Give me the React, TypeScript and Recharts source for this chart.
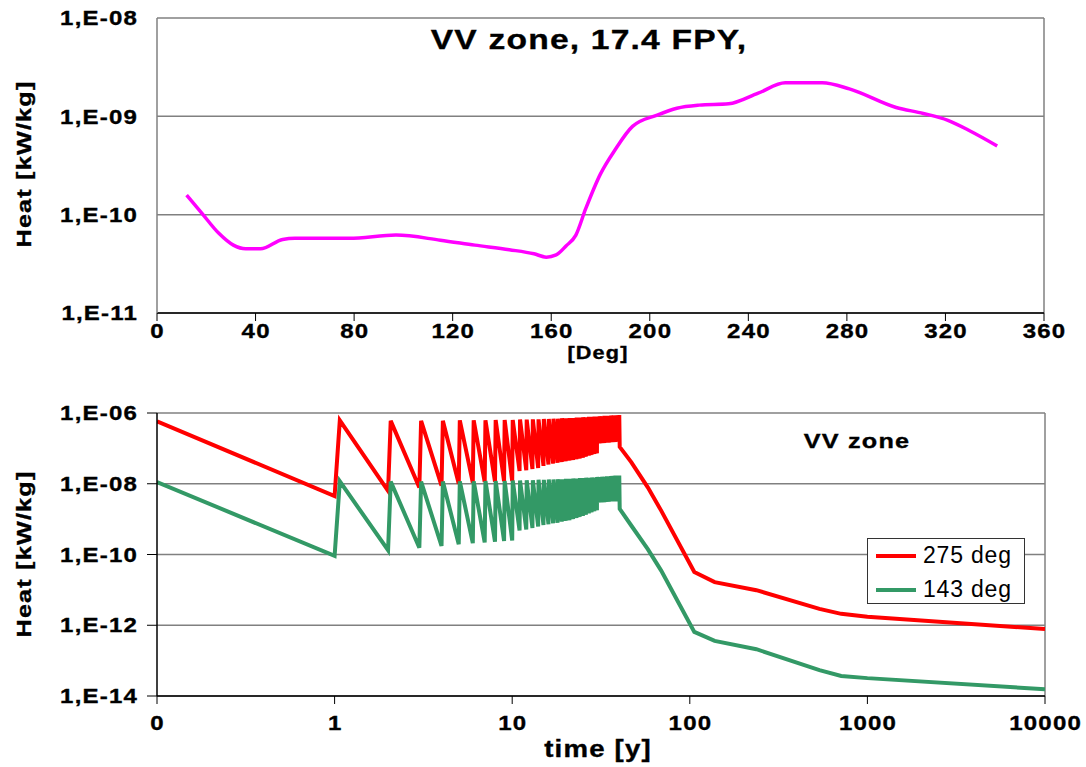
import React from 'react';
import { LineChart, Line, XAxis, YAxis, CartesianGrid, ReferenceLine, Legend } from 'recharts';

const FONT = '"Liberation Sans", Arial, Helvetica, sans-serif';

// ---- top panel: heat vs poloidal angle, 17.4 FPY
const angleDeg = [12, 14, 18, 25, 31, 36, 42, 51, 56, 78, 97, 115, 129, 143, 153, 158, 162, 166, 170, 174, 180, 186, 193, 203, 211, 220, 232, 244, 255, 270, 281, 300, 311, 321, 330, 341];
const heatByAngle = [
    1.58e-10, 1.38e-10, 1.05e-10, 6.5e-11, 4.9e-11, 4.5e-11, 4.5e-11, 5.6e-11, 5.75e-11, 5.75e-11,
    6.2e-11, 5.5e-11, 4.9e-11, 4.4e-11, 4.0e-11, 3.7e-11, 3.9e-11, 4.8e-11, 6.2e-11, 1.15e-10,
    2.6e-10, 4.6e-10, 7.9e-10, 1.03e-9, 1.21e-9, 1.3e-9, 1.34e-9, 1.72e-9, 2.19e-9, 2.19e-9,
    1.9e-9, 1.23e-9, 1.07e-9, 9.1e-10, 7.1e-10, 5.0e-10,
];
const topXTicks = [0, 40, 80, 120, 160, 200, 240, 280, 320, 360];
const topYTicks = [1e-11, 1e-10, 1e-9, 1e-8];
const topYLabels = ['1,E-11', '1,E-10', '1,E-09', '1,E-08'];

// ---- bottom panel: heat vs time
const startTime = 0.1;
const redStart = 5.8e-7;
const greenStart = 1.12e-8;
// ramp from shutdown value to operating peak at the start of each year
const RAMP = 0.07;
const cycleYears = [1, 2, 3, 4, 5, 6, 7, 8, 9, 10, 11, 12, 13, 14, 15, 16, 17, 18, 19, 20, 21, 22, 23, 24, 25, 26, 27, 28, 29, 30, 31, 32, 33, 34, 35, 36, 37, 38, 39, 40];
const redValley = [
    4.5e-9, 6.3e-9, 7.8e-9, 8.9e-9, 1.0e-8, 1.07e-8, 1.12e-8, 1.15e-8, 1.17e-8, 1.2e-8,
    2.3e-8, 2.4e-8, 2.6e-8, 2.8e-8, 3.2e-8, 3.5e-8, 3.7e-8, 3.9e-8, 4.1e-8, 4.3e-8,
    4.5e-8, 4.7e-8, 4.9e-8, 5.1e-8, 5.4e-8, 5.8e-8, 6.2e-8, 6.5e-8, 6.9e-8, 7.2e-8,
    1.38e-7, 1.41e-7, 1.41e-7, 1.45e-7, 1.45e-7, 1.48e-7, 1.51e-7, 1.51e-7, 1.55e-7, 1.58e-7,
];
const redPeak = [
    6.2e-7, 6.0e-7, 6.0e-7, 6.0e-7, 6.2e-7, 6.2e-7, 6.2e-7, 6.3e-7, 6.3e-7, 6.3e-7,
    6.5e-7, 6.5e-7, 6.6e-7, 6.6e-7, 6.8e-7, 6.8e-7, 6.9e-7, 6.9e-7, 7.1e-7, 7.1e-7,
    7.2e-7, 7.2e-7, 7.4e-7, 7.4e-7, 7.6e-7, 7.6e-7, 7.8e-7, 7.8e-7, 7.9e-7, 7.9e-7,
    8.1e-7, 8.1e-7, 8.3e-7, 8.3e-7, 8.3e-7, 8.5e-7, 8.5e-7, 8.5e-7, 8.7e-7, 8.7e-7,
];
const greenValley = [
    9.1e-11, 1.32e-10, 1.55e-10, 1.74e-10, 1.95e-10, 2.1e-10, 2.2e-10, 2.3e-10, 2.4e-10, 2.5e-10,
    4.8e-10, 5.1e-10, 5.6e-10, 6.2e-10, 6.8e-10, 7.2e-10, 7.6e-10, 7.9e-10, 8.5e-10, 8.9e-10,
    9.3e-10, 1.0e-9, 1.07e-9, 1.15e-9, 1.23e-9, 1.32e-9, 1.45e-9, 1.55e-9, 1.66e-9, 1.78e-9,
    2.95e-9, 3.0e-9, 3.0e-9, 3.1e-9, 3.1e-9, 3.16e-9, 3.16e-9, 3.2e-9, 3.2e-9, 3.3e-9,
];
const greenPeak = [
    1.17e-8, 1.15e-8, 1.15e-8, 1.15e-8, 1.17e-8, 1.17e-8, 1.2e-8, 1.2e-8, 1.2e-8, 1.23e-8,
    1.23e-8, 1.26e-8, 1.26e-8, 1.29e-8, 1.29e-8, 1.32e-8, 1.32e-8, 1.35e-8, 1.35e-8, 1.38e-8,
    1.38e-8, 1.41e-8, 1.41e-8, 1.45e-8, 1.45e-8, 1.48e-8, 1.48e-8, 1.51e-8, 1.51e-8, 1.55e-8,
    1.55e-8, 1.58e-8, 1.58e-8, 1.62e-8, 1.62e-8, 1.66e-8, 1.66e-8, 1.7e-8, 1.7e-8, 1.7e-8,
];
// cooling after the last operating year
const tailTimes = [40.3, 46.8, 58, 69, 106, 138, 237, 537, 712, 1000, 10000];
const redTail = [1.1e-7, 4.1e-8, 7.9e-9, 1.74e-9, 3.2e-11, 1.66e-11, 9.8e-12, 2.9e-12, 2.1e-12, 1.74e-12, 7.8e-13];
const greenTail = [1.95e-9, 6.6e-10, 1.41e-10, 3.5e-11, 6.5e-13, 3.6e-13, 2.1e-13, 5.4e-14, 3.7e-14, 3.2e-14, 1.55e-14];

const bottomXTicks = [0.1, 1, 10, 100, 1000, 10000];
const bottomXLabels = ['0', '1', '10', '100', '1000', '10000'];
const bottomYTicks = [1e-14, 1e-12, 1e-10, 1e-8, 1e-6];
const bottomYLabels = ['1,E-14', '1,E-12', '1,E-10', '1,E-08', '1,E-06'];
const legendOrder = ['275 deg', '143 deg'];

const topData = angleDeg.map((deg, i) => ({ deg, heat: heatByAngle[i] }));

const bottomData = [
    { t: startTime, red: redStart, green: greenStart },
    ...cycleYears.flatMap((yr, i) => [
        { t: yr, red: redValley[i], green: greenValley[i] },
        { t: yr + RAMP, red: redPeak[i], green: greenPeak[i] },
    ]),
    ...tailTimes.map((t, i) => ({ t, red: redTail[i], green: greenTail[i] })),
];

const findLabel = (values: number[], labels: string[], v: number) => {
    const i = values.findIndex((x) => Math.abs(x - v) <= Math.abs(x) * 1e-6);
    return i >= 0 ? labels[i] : '';
};

// bold, slightly widened text like the original office chart
function WideText({ x, y, size, anchor = 'middle', rotate = 0, ls = 1, dy, children }: any) {
    return (
        <text
            transform={`translate(${x},${y}) rotate(${rotate}) scale(1.2,1)`}
            textAnchor={anchor}
            dy={dy}
            fontFamily={FONT}
            fontWeight="bold"
            fontSize={size}
            letterSpacing={ls}
            fill="#000"
            stroke="#000"
            strokeWidth={0.35}
        >
            {children}
        </text>
    );
}

function YTick(props: any) {
    const { x, y, payload, values, labels } = props;
    return (
        <WideText x={x + 1} y={y} size={20} anchor="end" dy="0.36em">
            {findLabel(values, labels, payload.value)}
        </WideText>
    );
}

function XTick(props: any) {
    const { x, y, payload, values, labels, dy } = props;
    const text = labels ? findLabel(values, labels, payload.value) : String(payload.value);
    return (
        <WideText x={x + 0.6} y={y + dy} size={20}>
            {text}
        </WideText>
    );
}

function LegendBox({ payload }: any) {
    const items = legendOrder
        .map((name) => (payload || []).find((p: any) => p.value === name))
        .filter(Boolean);
    return (
        <div style={{ position: 'relative', width: 158, height: 66, boxSizing: 'border-box', border: '1px solid #333', background: '#fff', fontFamily: FONT }}>
            {items.map((item: any, i: number) => (
                <div key={item.value} style={{ position: 'absolute', left: 0, top: i * 34, height: 34, width: 156 }}>
                    <div style={{ position: 'absolute', left: 8, top: 15, width: 40, height: 4, background: item.color }} />
                    <div style={{ position: 'absolute', left: 55, top: 3, fontSize: 23, letterSpacing: 0.8, color: '#000', whiteSpace: 'nowrap' }}>
                        {item.value}
                    </div>
                </div>
            ))}
        </div>
    );
}

export default function App() {
    return (
        <div style={{ position: 'absolute', left: 0, top: 0, width: 1086, height: 767, background: '#fff', overflow: 'hidden' }}>
            <div style={{ position: 'absolute', left: 0, top: 0 }}>
                <LineChart width={1086} height={380} data={topData} margin={{ top: 18, right: 42, bottom: 27, left: 0 }}>
                    <CartesianGrid vertical={false} stroke="#808080" strokeWidth={1.5} />
                    <XAxis dataKey="deg" type="number" domain={[0, 360]} ticks={topXTicks} interval={0}
                        height={40} tickSize={8} axisLine={{ stroke: '#000', strokeWidth: 1.5 }}
                        tickLine={{ stroke: '#000' }} tick={<XTick dy={15} />} />
                    <YAxis type="number" scale="log" domain={[1e-11, 1e-8]} ticks={topYTicks} interval={0}
                        allowDataOverflow width={157} tickSize={0} tickMargin={20} tickLine={false}
                        axisLine={{ stroke: '#808080', strokeWidth: 1.5 }}
                        tick={<YTick values={topYTicks} labels={topYLabels} />} />
                    <ReferenceLine x={360} stroke="#808080" strokeWidth={1.5} />
                    <Line dataKey="heat" type="monotone" stroke="#FF00FF" strokeWidth={3.5} dot={false} isAnimationActive={false} />
                </LineChart>
            </div>
            <div style={{ position: 'absolute', left: 0, top: 380 }}>
                <LineChart width={1086} height={387} data={bottomData} margin={{ top: 33, right: 41, bottom: 31, left: 0 }}>
                    <CartesianGrid vertical={false} stroke="#808080" strokeWidth={1.5} />
                    <XAxis dataKey="t" type="number" scale="log" domain={[0.1, 10000]} ticks={bottomXTicks} interval={0}
                        allowDataOverflow height={40} tickSize={8} axisLine={{ stroke: '#000', strokeWidth: 1.5 }}
                        tickLine={{ stroke: '#000' }} tick={<XTick dy={24} values={bottomXTicks} labels={bottomXLabels} />} />
                    <YAxis type="number" scale="log" domain={[1e-14, 1e-6]} ticks={bottomYTicks} interval={0}
                        allowDataOverflow width={157} tickSize={10} tickMargin={10}
                        axisLine={{ stroke: '#000', strokeWidth: 1.5 }} tickLine={{ stroke: '#000' }}
                        tick={<YTick values={bottomYTicks} labels={bottomYLabels} />} />
                    <ReferenceLine x={10000} stroke="#808080" strokeWidth={1.5} />
                    <Legend layout="horizontal" align="center" verticalAlign="middle" content={<LegendBox />}
                        wrapperStyle={{ left: 867, top: 158, width: 158, height: 66 }} />
                    <Line dataKey="red" name="275 deg" type="linear" stroke="#FF0000" strokeWidth={4} dot={false} isAnimationActive={false} />
                    <Line dataKey="green" name="143 deg" type="linear" stroke="#339966" strokeWidth={4} dot={false} isAnimationActive={false} />
                </LineChart>
            </div>
            <svg width={1086} height={767} style={{ position: 'absolute', left: 0, top: 0, pointerEvents: 'none' }}>
                <WideText x={589} y={49} size={28}>VV zone, 17.4 FPY,</WideText>
                <WideText x={598} y={359} size={18}>[Deg]</WideText>
                <WideText x={31} y={164} size={21} rotate={-90}>Heat [kW/kg]</WideText>
                <WideText x={31} y={554} size={21} rotate={-90}>Heat [kW/kg]</WideText>
                <WideText x={598} y={757} size={23}>time [y]</WideText>
                <WideText x={857} y={448} size={21}>VV zone</WideText>
            </svg>
        </div>
    );
}
